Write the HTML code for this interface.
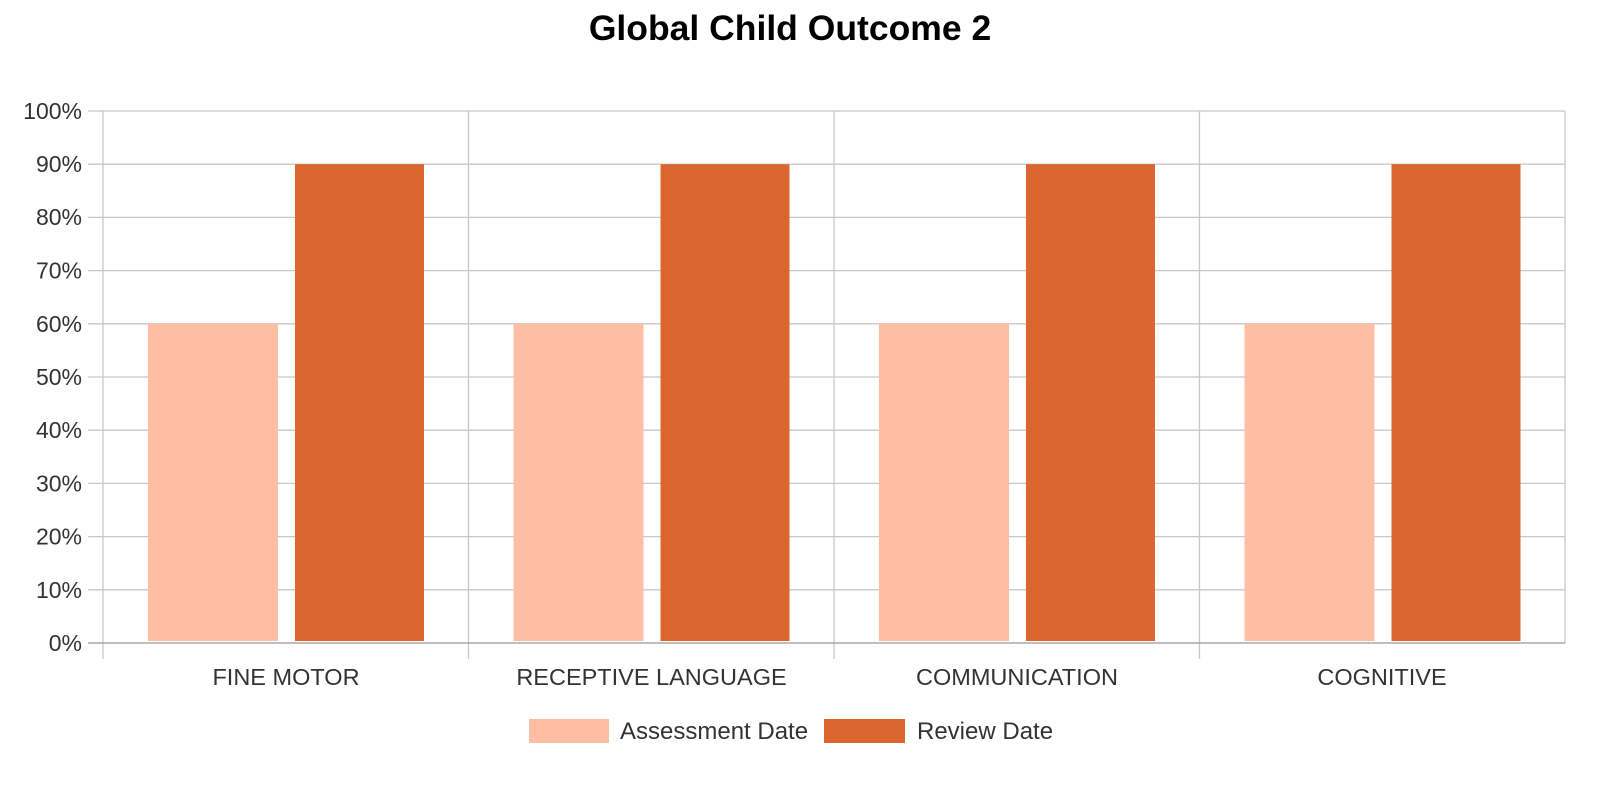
<!DOCTYPE html>
<html><head><meta charset="utf-8"><style>
body{margin:0;background:#fff;width:1600px;height:794px;overflow:hidden}
text{font-family:"Liberation Sans",sans-serif}
</style></head><body>
<svg width="1600" height="794" xmlns="http://www.w3.org/2000/svg">
<text x="790" y="40" text-anchor="middle" font-size="35.5" font-weight="bold" fill="#000">Global Child Outcome 2</text>
<g stroke="#c8c8c8" stroke-width="1.3">
<line x1="88" y1="111" x2="1565" y2="111"/>
<line x1="88" y1="164.2" x2="1565" y2="164.2"/>
<line x1="88" y1="217.4" x2="1565" y2="217.4"/>
<line x1="88" y1="270.6" x2="1565" y2="270.6"/>
<line x1="88" y1="323.8" x2="1565" y2="323.8"/>
<line x1="88" y1="377" x2="1565" y2="377"/>
<line x1="88" y1="430.2" x2="1565" y2="430.2"/>
<line x1="88" y1="483.4" x2="1565" y2="483.4"/>
<line x1="88" y1="536.6" x2="1565" y2="536.6"/>
<line x1="88" y1="589.8" x2="1565" y2="589.8"/>
<line x1="103" y1="111" x2="103" y2="659"/>
<line x1="468.5" y1="111" x2="468.5" y2="659"/>
<line x1="834" y1="111" x2="834" y2="659"/>
<line x1="1199.5" y1="111" x2="1199.5" y2="659"/>
<line x1="1565" y1="111" x2="1565" y2="643"/>
</g>
<g>
<rect x="148" y="323.8" width="130" height="317.2" fill="#fdbea3"/>
<rect x="295" y="164.2" width="129" height="476.8" fill="#dc6630"/>
<rect x="513.5" y="323.8" width="130" height="317.2" fill="#fdbea3"/>
<rect x="660.5" y="164.2" width="129" height="476.8" fill="#dc6630"/>
<rect x="879" y="323.8" width="130" height="317.2" fill="#fdbea3"/>
<rect x="1026" y="164.2" width="129" height="476.8" fill="#dc6630"/>
<rect x="1244.5" y="323.8" width="130" height="317.2" fill="#fdbea3"/>
<rect x="1391.5" y="164.2" width="129" height="476.8" fill="#dc6630"/>
</g>
<line x1="88" y1="643" x2="1565" y2="643" stroke="#a8a8a8" stroke-width="1.5"/>
<g font-size="23" fill="#333" text-anchor="end">
<text x="82" y="119">100%</text>
<text x="82" y="172">90%</text>
<text x="82" y="225">80%</text>
<text x="82" y="278.5">70%</text>
<text x="82" y="332">60%</text>
<text x="82" y="385">50%</text>
<text x="82" y="438">40%</text>
<text x="82" y="491.5">30%</text>
<text x="82" y="544.5">20%</text>
<text x="82" y="598">10%</text>
<text x="82" y="651">0%</text>
</g>
<g font-size="23.5" fill="#333" text-anchor="middle">
<text x="286" y="685">FINE MOTOR</text>
<text x="651.5" y="685">RECEPTIVE LANGUAGE</text>
<text x="1017" y="685">COMMUNICATION</text>
<text x="1382" y="685">COGNITIVE</text>
</g>
<rect x="529" y="719" width="80" height="24" fill="#fdbea3"/>
<text x="620" y="739" font-size="24" fill="#333">Assessment Date</text>
<rect x="824" y="719" width="81" height="24" fill="#dc6630"/>
<text x="917" y="739" font-size="24" fill="#333">Review Date</text>
</svg>
</body></html>
